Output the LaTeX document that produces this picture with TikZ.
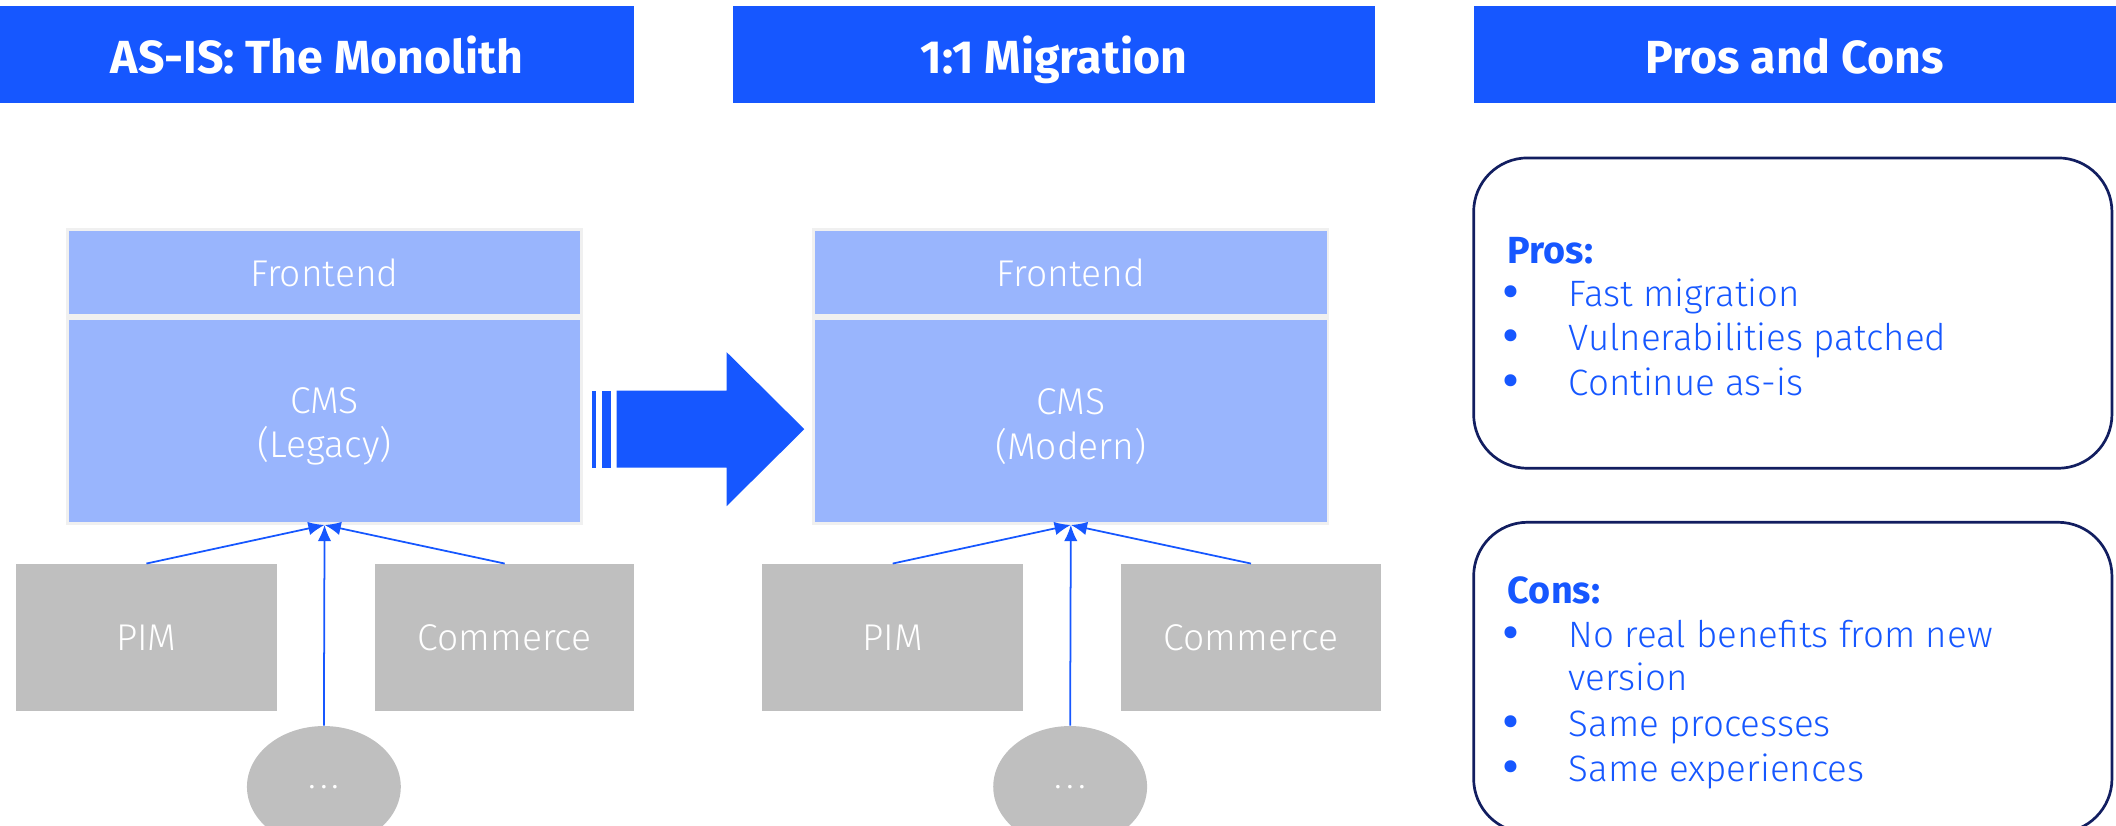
\documentclass[tikz,border=0pt]{standalone}
\usepackage{fontspec}
\setmainfont{Fira Sans}
\newfontfamily\lightfont{Fira Sans Light}
\usetikzlibrary{shapes.geometric,arrows.meta}
\definecolor{hdrblue}{RGB}{22,87,255}
\definecolor{boxblue}{RGB}{153,181,253}
\definecolor{boxgray}{RGB}{191,191,191}
\definecolor{navy}{RGB}{18,30,96}
\tikzset{
 header/.style={fill=hdrblue,text=white,minimum width=238pt,minimum height=36pt,inner sep=0pt,text height=14.2pt,text depth=0pt,font=\bfseries\fontsize{17.2}{20}\selectfont},
 layer/.style={fill=boxblue,draw=white!94!black,line width=1pt,text=white,minimum width=190.5pt,inner sep=0pt,align=center,font=\lightfont\fontsize{13.8}{16.5}\selectfont},
 system/.style={fill=boxgray,text=white,minimum width=96pt,minimum height=54.5pt,inner sep=0pt,font=\lightfont\fontsize{13.8}{16.5}\selectfont},
 link/.style={draw=hdrblue,line width=0.65pt,-{Latex[length=6pt,width=5pt]}},
 listbox/.style={draw=navy,line width=1pt,rounded corners=20pt,minimum width=236.5pt,minimum height=115pt},
 listhead/.style={anchor=base west,inner sep=0pt,text=hdrblue,font=\bfseries\fontsize{14}{16.5}\selectfont},
 listitem/.style={anchor=base west,inner sep=0pt,text=hdrblue,font=\lightfont\fontsize{13.6}{16.5}\selectfont},
 dot/.style={anchor=base,inner sep=0pt,text=hdrblue,font=\bfseries\fontsize{16}{16.5}\selectfont}
}
\begin{document}
\begin{tikzpicture}[x=0.5pt,y=-0.5pt]
\useasboundingbox (0,0) rectangle (1568,612);
% headers
\node[header,minimum width=235pt] (hdr-asis) at (235,40.5) {AS-IS: The Monolith};
\node[header] (hdr-mig) at (781,40.5) {1:1 Migration};
\node[header] (hdr-pc) at (1330,40.5) {Pros and Cons};
\foreach \dx/\col/\ver in {0/asis/Legacy,553/mig/Modern} % edit here for the two stacks
{
\begin{scope}[shift={(\dx,0)}]
\node[layer,minimum height=32pt] (front-\col) at (240.5,202) {Frontend};
\node[layer,minimum height=76pt] (cms-\col) at (240.5,312) {};
\node[layer,fill=none,draw=none,minimum width=0pt] (cms-text-\col) at ([yshift=-2pt]cms-\col.center) {CMS\\(\ver)};
\node[system,minimum width=96.5pt] (pim-\col) at (108.5,472.5) {PIM};
\node[system] (com-\col) at (374,472.5) {Commerce};
\node[ellipse,fill=boxgray,text=white,minimum width=57pt,minimum height=45pt,inner sep=0pt,font=\lightfont\fontsize{13.8}{16.5}\selectfont] (more-\col) at (240,583) {.\kern1.5pt.\kern1.5pt.};
\draw[link] (pim-\col.north) -- (cms-\col.south);
\draw[link] (com-\col.north) -- (cms-\col.south);
\draw[link] (more-\col.north) -- (cms-\col.south);
\end{scope}
}
% big arrow
\fill[hdrblue] (457,289.5) -- (538.5,289.5) -- (538.5,261) -- (596,318) -- (538.5,375) -- (538.5,346.5) -- (457,346.5) -- cycle;
\fill[hdrblue] (439,289.5) rectangle (442,346.5);
\fill[hdrblue] (446,289.5) rectangle (453,346.5);
% pros
\node[listbox] (pros) at (1328.5,232) {};
\node[listhead] (pros-head) at (1117,195) {Pros:};
\foreach \y/\txt [count=\i] in {227/Fast migration,260/Vulnerabilities patched,293/Continue as-is}
{
\node[dot] at (1120,\y) {\textbullet};
\node[listitem] (pros-\i) at (1162,\y) {\txt};
}
% cons
\node[listbox] (cons) at (1328.5,502) {};
\node[listhead] (cons-head) at (1117,447) {Cons:};
\foreach \y/\txt [count=\i] in {480/No real benefits from new,546/Same processes,579/Same experiences}
{
\node[dot] at (1120,\y) {\textbullet};
\node[listitem] (cons-\i) at (1162,\y) {\txt};
}
\node[listitem] (cons-wrap) at (1162,512) {version};
\end{tikzpicture}
\end{document}
